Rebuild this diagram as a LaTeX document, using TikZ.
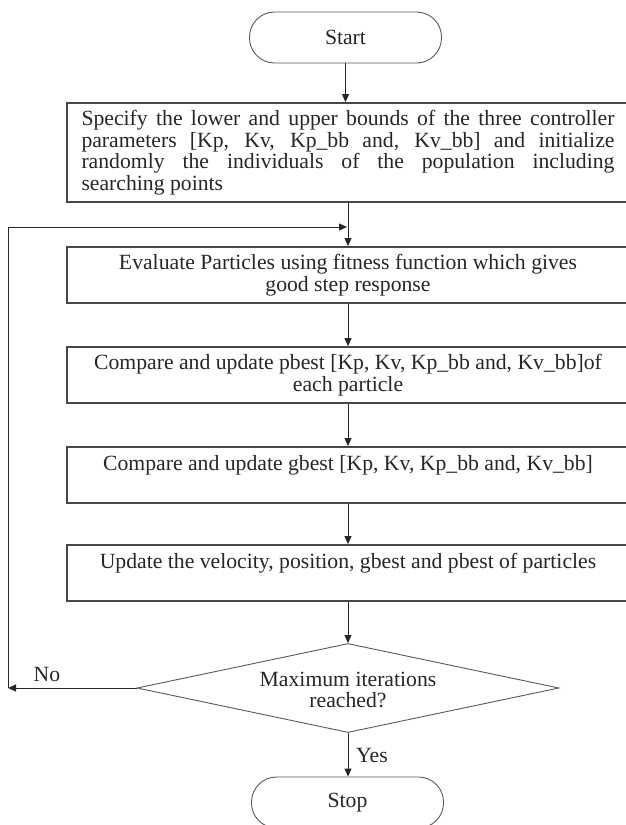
\documentclass[tikz,border=0pt]{standalone}
\usepackage{fontspec}
\setmainfont{Liberation Serif}
\usetikzlibrary{arrows.meta,shapes.geometric}
\newcommand\jline[1]{\makebox[533pt][s]{#1}}
\begin{document}
\begin{tikzpicture}[
  x=1pt,y=-1pt,
  txt/.style={font=\fontsize{21.7}{21.5}\selectfont, text=black!85},
  procbox/.style={draw=black!72, line width=1.8pt, minimum width=562pt, minimum height=56pt, inner sep=0pt, align=center, txt},
  term/.style={draw=black!65, line width=0.9pt, rounded corners=25pt, minimum width=192pt, minimum height=51pt, inner sep=0pt, txt},
  decision/.style={draw=black!65, line width=0.9pt, diamond, aspect=4.74, minimum width=422pt, minimum height=89pt, inner sep=0pt, align=center, txt},
  arr/.style={draw=black!85, line width=1pt, -{Triangle[length=8pt,width=7pt]}},
  conn/.style={draw=black!85, line width=1pt},
]
\useasboundingbox (0,0) rectangle (625,825);

\node[term] (start) at (345.5,37.5) {Start};
\node[procbox, minimum height=99pt] (b1) at (348,152.5) {%
  \jline{Specify the lower and upper bounds of the three controller}\\
  \jline{parameters [Kp, Kv, Kp\_bb and, Kv\_bb] and initialize}\\
  \jline{randomly the individuals of the population including}\\
  \makebox[533pt][l]{searching points}};
\node[procbox] (b2) at (348,275) {Evaluate Particles using fitness function which gives\\good step response};
\node[procbox] (b3) at (348,375) {Compare and update pbest [Kp, Kv, Kp\_bb and, Kv\_bb]of\\each particle};
\node[procbox] (b4) at (348,475) {\rule{0pt}{18pt}Compare and update gbest [Kp, Kv, Kp\_bb and, Kv\_bb]\\\strut};
\node[procbox] (b5) at (348,573) {\rule{0pt}{18pt}Update the velocity, position, gbest and pbest of particles\\\strut};
\node[decision] (dec) at (348,688) {\rule{0pt}{18pt}Maximum iterations\\reached?};
\node[term] (stop) at (347.5,802.5) {Stop};

\coordinate (lb) at (8,688);
\coordinate (lt) at (8,227);
\coordinate (m) at (347,227);

\node[txt] (no) at (47,674) {No};
\node[txt] (yes) at (372,755) {Yes};

\draw[arr] (start.south) -- (start.south |- b1.north);
\draw[arr] (b1.south) -- (b2.north);
\draw[arr] (b2.south) -- (b3.north);
\draw[arr] (b3.south) -- (b4.north);
\draw[arr] (b4.south) -- (b5.north);
\draw[arr] (b5.south) -- (dec.north);
\draw[arr] (dec.south) -- (dec.south |- stop.north);
\draw[arr] (dec.west) -- (lb);
\draw[conn] (lb) -- (lt);
\draw[arr] (lt) -- (m);
\end{tikzpicture}
\end{document}
